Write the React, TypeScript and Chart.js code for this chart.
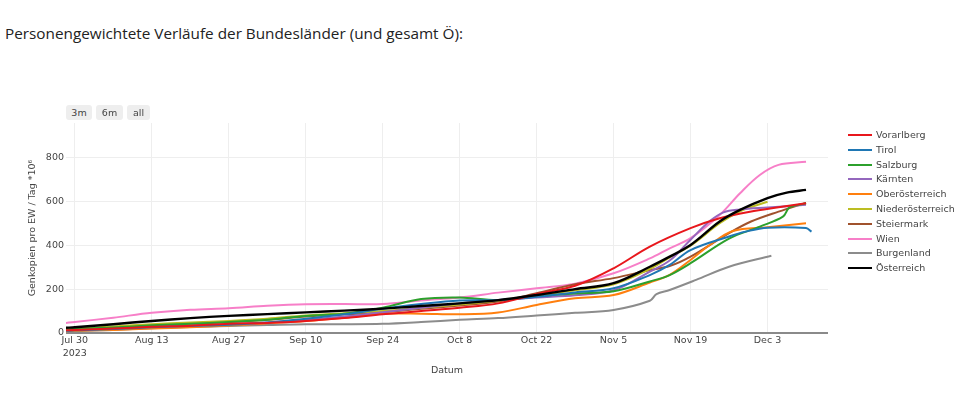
import React, { useEffect, useRef } from "react";
import { Chart, registerables } from "chart.js";

Chart.register(...registerables);

// x values are days since 2023-07-30
const xTickDays = [0, 14, 28, 42, 56, 70, 84, 98, 112, 126];
const xTickLabels: (string | string[])[] = [
  ["Jul 30", "2023"], "Aug 13", "Aug 27", "Sep 10", "Sep 24", "Oct 8", "Oct 22", "Nov 5", "Nov 19", "Dec 3",
];
const yTicks = [0, 200, 400, 600, 800];

const seriesNames = [
  "Vorarlberg", "Tirol", "Salzburg", "Kärnten", "Oberösterreich",
  "Niederösterreich", "Steiermark", "Wien", "Burgenland", "Österreich",
];
const seriesColors = [
  "#e8171c", "#1f77b4", "#2ca02c", "#9467bd", "#ff7f0e",
  "#bcbd22", "#a0522d", "#f77fc8", "#8c8c8c", "#000000",
];

const vorarlberg: [number, number][] = [[-1.6,12],[0,14],[7,20],[14,28],[21,33],[28,42],[35,46],[42,55],[49,68],[56,85],[63,100],[70,115],[77,135],[84,178],[91,215],[98,295],[104.6,394],[112,478],[117.3,523],[122.8,553],[128,573],[133,591]];
const tirol: [number, number][] = [[-1.6,10],[0,12],[7,18],[14,26],[21,32],[28,38],[35,48],[42,65],[49,85],[56,110],[63,132],[70,148],[77,150],[84,165],[91,185],[98,204],[104.6,264],[108.2,310],[112,378],[119,440],[122,462],[126,480],[133,478],[134,462]];
const salzburg: [number, number][] = [[-1.6,15],[0,18],[7,25],[14,35],[21,42],[28,50],[35,60],[42,78],[49,88],[56,115],[63,155],[70,162],[77,150],[84,168],[91,180],[98,190],[104.6,235],[108.2,264],[112,318],[119,430],[124.6,485],[128.8,530],[130,572],[133,591]];
const kaernten: [number, number][] = [[-1.6,12],[0,14],[7,20],[14,28],[21,33],[28,40],[35,48],[42,60],[49,75],[56,95],[63,115],[70,135],[77,150],[84,162],[91,172],[98,195],[104.6,280],[108.2,330],[112,425],[115.5,510],[118,550],[121,563],[126,572],[133,584]];
const oberoesterreich: [number, number][] = [[-1.6,8],[0,10],[7,14],[14,20],[21,26],[28,34],[35,44],[42,55],[49,70],[56,88],[63,88],[70,85],[77,93],[84,128],[91,158],[98,173],[104.6,230],[108.2,265],[112,333],[115.5,401],[119.7,465],[126,482],[133,500]];
const niederoesterreich: [number, number][] = [[-1.6,18],[0,20],[7,30],[14,40],[21,48],[28,55],[35,65],[42,80],[49,90],[56,100],[63,115],[70,130],[77,148],[84,170],[91,195],[98,222],[104.6,292],[108.2,345],[112,398],[117.3,500],[121,555],[126,598]];
const steiermark: [number, number][] = [[-1.6,15],[0,17],[7,25],[14,35],[21,42],[28,50],[35,60],[42,75],[49,85],[56,95],[63,110],[70,125],[77,143],[84,181],[91,222],[98,250],[104.6,287],[108.2,305],[112,348],[119,455],[123,508],[128,553],[133,593]];
const wien: [number, number][] = [[-1.6,46],[0,50],[7,70],[14,92],[21,106],[28,113],[35,124],[42,131],[49,132],[56,132],[63,148],[70,162],[77,184],[84,204],[91,225],[98,272],[104.6,340],[108.2,386],[112,432],[117.3,538],[121,637],[124.6,720],[128,766],[133,780]];
const burgenland: [number, number][] = [[-1.6,6],[0,8],[7,14],[14,22],[21,27],[28,32],[35,36],[42,40],[49,40],[56,42],[63,50],[70,60],[77,68],[84,80],[91,92],[98,105],[104.6,147],[105.8,177],[108.2,196],[113,242],[119,302],[126.7,352]];
const oesterreich: [number, number][] = [[-1.6,24],[0,26],[7,40],[14,55],[21,68],[28,78],[35,86],[42,94],[49,102],[56,111],[63,123],[70,135],[77,150],[84,173],[91,200],[98,227],[104.6,302],[108.2,348],[112,401],[117.3,508],[121,561],[126,615],[129.5,640],[133,652]];

const seriesData = [
  vorarlberg, tirol, salzburg, kaernten, oberoesterreich,
  niederoesterreich, steiermark, wien, burgenland, oesterreich,
];

const FONT = "'DejaVu Sans', Verdana, sans-serif";

export default function App() {
  const canvasRef = useRef<HTMLCanvasElement | null>(null);

  useEffect(() => {
    document.body.style.margin = "0";
    const canvas = canvasRef.current;
    if (!canvas) return;
    const chart = new Chart(canvas, {
      type: "line",
      data: {
        datasets: seriesNames.map((name, i) => ({
          label: name,
          data: seriesData[i].map(([x, y]) => ({ x, y })),
          borderColor: seriesColors[i],
          backgroundColor: seriesColors[i],
          borderWidth: i === 9 ? 2.4 : 2,
          pointRadius: 0,
          tension: 0.35,
          fill: false,
          order: i === 9 ? 0 : 1,
        })),
      },
      options: {
        animation: false,
        responsive: false,
        maintainAspectRatio: false,
        layout: { padding: { left: 0, top: 123, right: 132, bottom: 0 } },
        plugins: {
          legend: { display: false },
          tooltip: { enabled: false },
        },
        scales: {
          x: {
            type: "linear",
            min: -1.6,
            max: 137,
            afterFit: (s: any) => { s.height = 61; },
            afterBuildTicks: (s: any) => { s.ticks = xTickDays.map((v) => ({ value: v })); },
            ticks: {
              autoSkip: false,
              maxRotation: 0,
              padding: 1,
              color: "#444",
              font: { family: FONT, size: 9.5, lineHeight: 1.35 },
              callback: (v: any) => {
                const idx = xTickDays.indexOf(Number(v));
                return idx >= 0 ? xTickLabels[idx] : "";
              },
            },
            grid: { color: "#eeeeee", lineWidth: 1, drawTicks: false },
            border: { display: false },
            title: {
              display: true,
              text: "Datum",
              color: "#444",
              font: { family: FONT, size: 9.5 },
              padding: { top: 0, bottom: 18 },
            },
          },
          y: {
            type: "linear",
            min: 0,
            max: 957,
            afterFit: (s: any) => { s.width = 66; },
            afterBuildTicks: (s: any) => { s.ticks = yTicks.map((v) => ({ value: v })); },
            ticks: {
              padding: 2,
              color: "#444",
              font: { family: FONT, size: 9.5 },
            },
            grid: {
              drawTicks: false,
              color: (c: any) => (c.tick && c.tick.value === 0 ? "#8a8a8a" : "#eeeeee"),
              lineWidth: (c: any) => (c.tick && c.tick.value === 0 ? 2 : 1),
            },
            border: { display: false },
            title: {
              display: true,
              text: "Genkopien pro EW / Tag *10⁶",
              color: "#444",
              font: { family: FONT, size: 9.5 },
              padding: { top: 27, bottom: 0 },
            },
          },
        },
      },
    });
    return () => chart.destroy();
  }, []);

  const buttons = [
    { label: "3m", left: 66, width: 26 },
    { label: "6m", left: 96, width: 27 },
    { label: "all", left: 127, width: 23 },
  ];

  return (
    <div style={{ position: "fixed", left: 0, top: 0, width: 960, height: 394, background: "#fff", overflow: "hidden" }}>
      <div
        style={{
          position: "absolute", left: 5, top: 21, fontFamily: "'Open Sans', sans-serif",
          fontSize: 15.3, color: "#222", whiteSpace: "nowrap", lineHeight: "24px",
        }}
      >
        Personengewichtete Verläufe der Bundesländer (und gesamt Ö):
      </div>
      <canvas ref={canvasRef} width={960} height={394} style={{ position: "absolute", left: 0, top: 0 }} />
      {buttons.map((b) => (
        <div
          key={b.label}
          style={{
            position: "absolute", left: b.left, top: 105, width: b.width, height: 15,
            background: "#eeeeee", borderRadius: 3, fontFamily: FONT, fontSize: 9.5,
            color: "#444", textAlign: "center", lineHeight: "15px",
          }}
        >
          {b.label}
        </div>
      ))}
      {seriesNames.map((name, i) => (
        <div key={name} style={{ position: "absolute", left: 848, top: 135 + i * 14.8 - 7, height: 14, width: 112 }}>
          <div style={{ position: "absolute", left: 0, top: 6, width: 24, height: 2, background: seriesColors[i] }} />
          <div
            style={{
              position: "absolute", left: 28, top: 0, fontFamily: FONT, fontSize: 9.5,
              color: "#444", lineHeight: "14px", whiteSpace: "nowrap",
            }}
          >
            {name}
          </div>
        </div>
      ))}
    </div>
  );
}
